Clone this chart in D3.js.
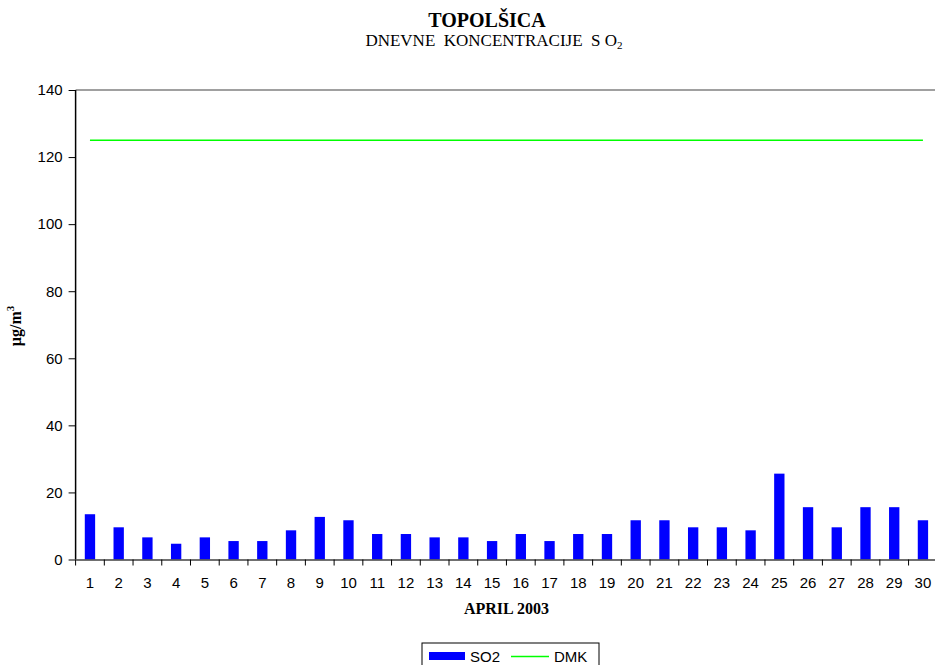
<!DOCTYPE html>
<html>
<head>
<meta charset="utf-8">
<script src="https://cdn.jsdelivr.net/npm/d3@7"></script>
<style>
  body { margin: 0; background: #fff; }
  svg { display: block; }
  text { white-space: pre; }
</style>
</head>
<body>
<svg width="935" height="665"></svg>
<script>
const days = ['1','2','3','4','5','6','7','8','9','10','11','12','13','14','15',
  '16','17','18','19','20','21','22','23','24','25','26','27','28','29','30'];
const so2 = [13.5, 9.6, 6.6, 4.7, 6.6, 5.5, 5.5, 8.7, 12.7, 11.7,
  7.6, 7.6, 6.6, 6.6, 5.5, 7.6, 5.5, 7.6, 7.6, 11.7,
  11.7, 9.6, 9.6, 8.7, 25.6, 15.6, 9.6, 15.6, 15.6, 11.7];
const dmk = [125, 125, 125, 125, 125, 125, 125, 125, 125, 125,
  125, 125, 125, 125, 125, 125, 125, 125, 125, 125,
  125, 125, 125, 125, 125, 125, 125, 125, 125, 125];
const yTicks = [0, 20, 40, 60, 80, 100, 120, 140];

const plot = {left: 75.6, right: 937.3, top: 90, bottom: 559.5};
const svg = d3.select('svg');

const x = d3.scaleBand()
  .domain(days)
  .range([plot.left, plot.right])
  .paddingInner(0.64)
  .paddingOuter(0.32);
const xOuter = d3.scaleBand().domain(days).range([plot.left, plot.right]);
const y = d3.scaleLinear().domain([0, 140]).range([plot.bottom, plot.top]);

// top border
svg.append('line')
  .attr('x1', plot.left).attr('x2', plot.right)
  .attr('y1', plot.top).attr('y2', plot.top)
  .attr('stroke', '#808080').attr('stroke-width', 1.5);

// bars
svg.append('g').selectAll('rect')
  .data(so2)
  .join('rect')
    .attr('x', (d, i) => x(days[i]))
    .attr('y', d => y(d))
    .attr('width', x.bandwidth())
    .attr('height', d => y(0) - y(d))
    .attr('fill', '#0000ff');

// DMK line
const line = d3.line()
  .x((d, i) => xOuter(days[i]) + xOuter.bandwidth() / 2)
  .y(d => y(d));
svg.append('path')
  .datum(dmk)
  .attr('d', line)
  .attr('fill', 'none')
  .attr('stroke', '#00ff00')
  .attr('stroke-width', 1.5);

// y axis
const yAxis = svg.append('g')
  .attr('transform', `translate(${plot.left},0)`)
  .call(d3.axisLeft(y).tickValues(yTicks).tickSize(7).tickPadding(6));
yAxis.select('.domain').attr('stroke', '#000').attr('stroke-width', 1.5).attr('d', `M0,${plot.top}V${plot.bottom}`);
yAxis.selectAll('.tick line').attr('stroke', '#000');
yAxis.selectAll('text')
  .attr('font-family', 'Liberation Sans, Arial, sans-serif')
  .attr('font-size', 15)
  .attr('fill', '#000');

// x axis
const xAxis = svg.append('g')
  .attr('transform', `translate(0,${plot.bottom})`)
  .call(d3.axisBottom(xOuter).tickSize(0).tickPadding(18));
xAxis.select('.domain').attr('stroke', '#404040').attr('stroke-width', 1.5);
xAxis.selectAll('text')
  .attr('font-family', 'Liberation Sans, Arial, sans-serif')
  .attr('font-size', 15)
  .attr('fill', '#000');
xAxis.selectAll('.sep')
  .data(days.concat(['end']))
  .join('line')
    .attr('class', 'sep')
    .attr('x1', (d, i) => plot.left + i * xOuter.step())
    .attr('x2', (d, i) => plot.left + i * xOuter.step())
    .attr('y1', 0).attr('y2', 6)
    .attr('stroke', '#000');

// titles
svg.append('text')
  .attr('x', 487).attr('y', 27)
  .attr('text-anchor', 'middle')
  .attr('font-family', 'Liberation Serif, Times New Roman, serif')
  .attr('font-weight', 'bold')
  .attr('font-size', 20)
  .text('TOPOLŠICA');

const sub = svg.append('text')
  .attr('x', 494).attr('y', 46)
  .attr('text-anchor', 'middle')
  .attr('font-family', 'Liberation Serif, Times New Roman, serif')
  .attr('font-size', 17);
sub.append('tspan').text('DNEVNE  KONCENTRACIJE  S O');
sub.append('tspan').attr('font-size', 11).attr('dy', 3).text('2');

svg.append('text')
  .attr('x', (plot.left + plot.right) / 2).attr('y', 614)
  .attr('text-anchor', 'middle')
  .attr('font-family', 'Liberation Serif, Times New Roman, serif')
  .attr('font-weight', 'bold')
  .attr('font-size', 16)
  .text('APRIL 2003');

const yl = svg.append('text')
  .attr('transform', 'translate(21,326) rotate(-90)')
  .attr('text-anchor', 'middle')
  .attr('font-family', 'Liberation Serif, Times New Roman, serif')
  .attr('font-weight', 'bold')
  .attr('font-size', 16);
yl.append('tspan').text('µg/m');
yl.append('tspan').attr('font-size', 11).attr('dy', -7).text('3');

// legend
const lg = svg.append('g').attr('transform', 'translate(422,643)');
lg.append('rect')
  .attr('x', 0).attr('y', 0).attr('width', 177).attr('height', 26)
  .attr('fill', '#fff').attr('stroke', '#000').attr('stroke-width', 1);
lg.append('rect')
  .attr('x', 7).attr('y', 9).attr('width', 36).attr('height', 8)
  .attr('fill', '#0000ff');
lg.append('text')
  .attr('x', 48).attr('y', 19)
  .attr('font-family', 'Liberation Sans, Arial, sans-serif')
  .attr('font-size', 15)
  .text('SO2');
lg.append('line')
  .attr('x1', 89).attr('x2', 127).attr('y1', 13.5).attr('y2', 13.5)
  .attr('stroke', '#00ff00').attr('stroke-width', 1.5);
lg.append('text')
  .attr('x', 132).attr('y', 19)
  .attr('font-family', 'Liberation Sans, Arial, sans-serif')
  .attr('font-size', 15)
  .text('DMK');
</script>
</body>
</html>
